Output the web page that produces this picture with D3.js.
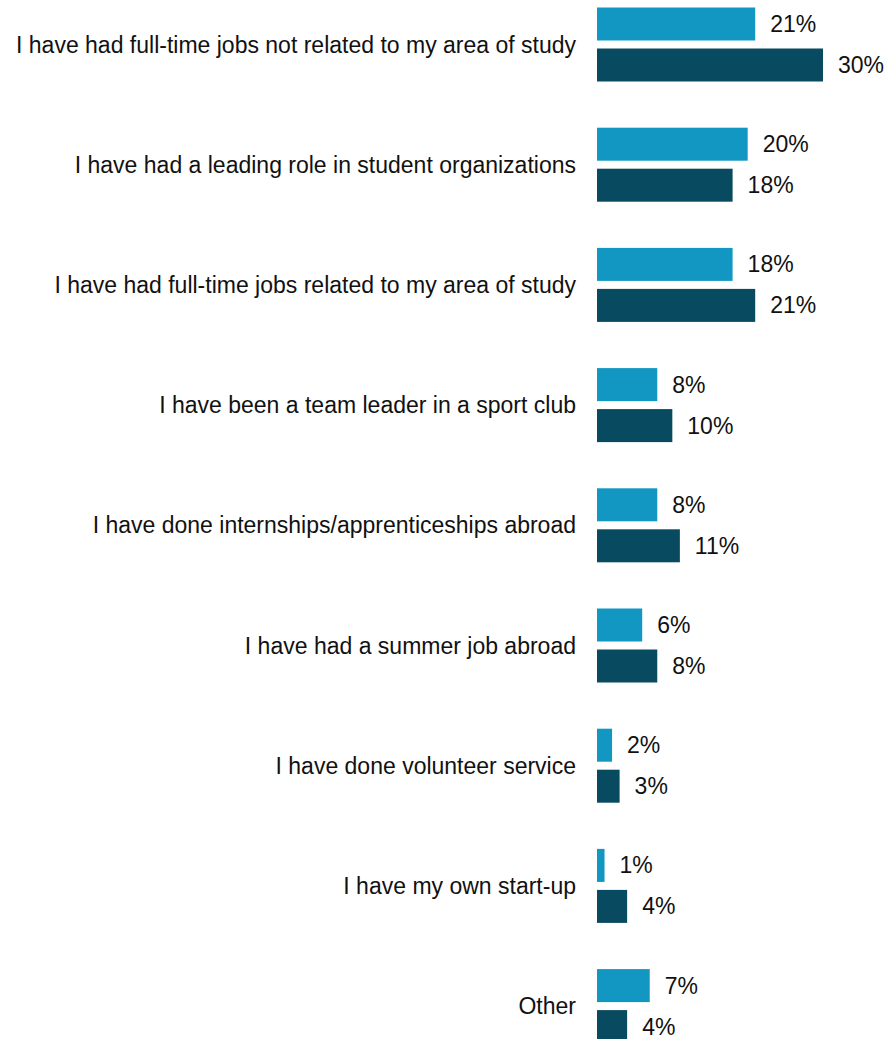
<!DOCTYPE html>
<html>
<head>
<meta charset="utf-8">
<script src="https://cdn.jsdelivr.net/npm/d3@7"></script>
<style>
  html, body { margin: 0; padding: 0; background: #fff; }
  svg { display: block; }
  text { font-family: "Liberation Sans", Arial, sans-serif; fill: #111; }
</style>
</head>
<body>
<svg id="chart" width="886" height="1039"></svg>
<script>
const categories = [
  "I have had full-time jobs not related to my area of study",
  "I have had a leading role in student organizations",
  "I have had full-time jobs related to my area of study",
  "I have been a team leader in a sport club",
  "I have done internships/apprenticeships abroad",
  "I have had a summer job abroad",
  "I have done volunteer service",
  "I have my own start-up",
  "Other"
];
const seriesLight = [21, 20, 18, 8, 8, 6, 2, 1, 7];
const seriesDark  = [30, 18, 21, 10, 11, 8, 3, 4, 4];
const seriesKeys = ["light", "dark"];
const seriesColors = { light: "#1197c2", dark: "#084a5f" };

const rows = categories.map((c, i) => ({
  category: c,
  values: [
    { key: "light", value: seriesLight[i] },
    { key: "dark", value: seriesDark[i] }
  ]
}));

const svg = d3.select("#chart");

const x = d3.scaleLinear().domain([0, 30]).range([597, 823]);
const y = d3.scaleBand().domain(categories).range([7.5, 7.5 + 120.2 * categories.length]).paddingInner(0).paddingOuter(0);
const yInner = d3.scaleBand().domain(seriesKeys).range([0, 74]).paddingInner(8 / 41).paddingOuter(0);

const groups = svg.selectAll("g.group")
  .data(rows)
  .join("g")
  .attr("class", "group")
  .attr("transform", d => `translate(0,${y(d.category)})`);

groups.selectAll("rect")
  .data(d => d.values)
  .join("rect")
  .attr("x", x(0))
  .attr("y", d => yInner(d.key))
  .attr("width", d => x(d.value) - x(0))
  .attr("height", yInner.bandwidth())
  .attr("fill", d => seriesColors[d.key]);

groups.selectAll("text.value")
  .data(d => d.values)
  .join("text")
  .attr("class", "value")
  .attr("x", d => x(d.value) + 15)
  .attr("y", d => yInner(d.key) + yInner.bandwidth() / 2)
  .attr("dominant-baseline", "central")
  .attr("font-size", "23px")
  .text(d => d.value + "%");

groups.append("text")
  .attr("class", "category")
  .attr("x", 576)
  .attr("y", 37)
  .attr("text-anchor", "end")
  .attr("dominant-baseline", "central")
  .attr("font-size", "23px")
  .text(d => d.category);
</script>
</body>
</html>
